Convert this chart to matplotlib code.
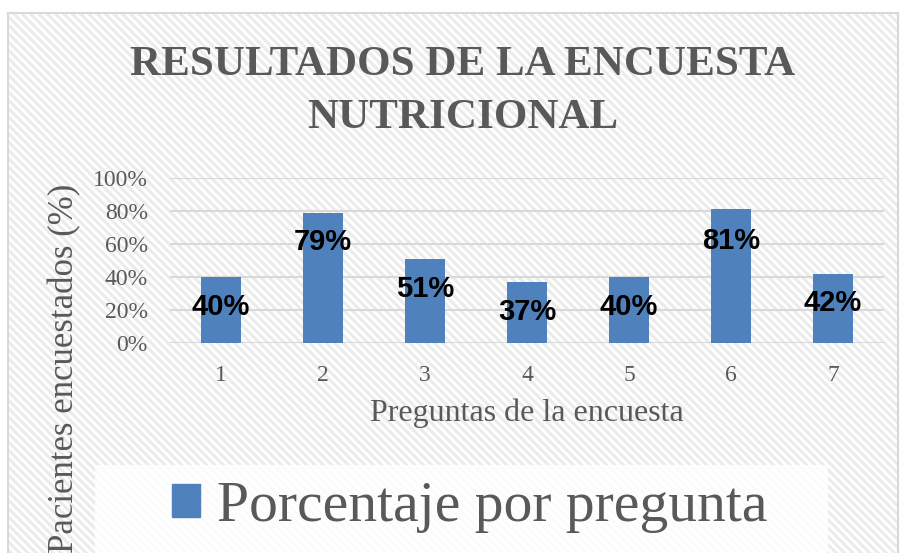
import matplotlib.pyplot as plt
from matplotlib.patches import Rectangle

# Survey data
preguntas = ["1", "2", "3", "4", "5", "6", "7"]
porcentaje = [0.40, 0.79, 0.51, 0.37, 0.40, 0.81, 0.42]
etiquetas = ["40%", "79%", "51%", "37%", "40%", "81%", "42%"]
y_ticks = [0.0, 0.2, 0.4, 0.6, 0.8, 1.0]
y_tick_labels = ["0%", "20%", "40%", "60%", "80%", "100%"]

# label heights (where the value labels sit, in data units)
label_pos = [0.22, 0.61, 0.33, 0.19, 0.22, 0.62, 0.24]

GRAY = "#595959"
BLUE = "#4f81bd"
SERIF = "Liberation Serif"

plt.rcParams["hatch.linewidth"] = 2.2

fig = plt.figure(figsize=(9.04, 5.53), dpi=100)
W, H = 904, 553

# striped chart background + border
bg = Rectangle((8 / W, 0), 890 / W, 1 - 13 / H, transform=fig.transFigure,
               facecolor="white", edgecolor="#ebebeb", hatch="\\\\\\\\",
               linewidth=0, zorder=-3)
fig.patches.append(bg)
border = Rectangle((8 / W, -0.01), 890 / W, 1 - 13 / H + 0.01,
                   transform=fig.transFigure, fill=False,
                   edgecolor="#d9d9d9", linewidth=1.5, zorder=-2)
fig.patches.append(border)

# legend background box
legbox = Rectangle((95 / W, 0), 733 / W, 1 - 465 / H,
                   transform=fig.transFigure, facecolor="white",
                   alpha=0.85, linewidth=0, zorder=-1)
fig.patches.append(legbox)

ax = fig.add_axes([170 / W, 1 - 343 / H, 714 / W, 165 / H])
ax.set_facecolor("none")

x = range(len(preguntas))
ax.bar(x, porcentaje, width=0.4, color=BLUE, zorder=3)

for i, (lbl, yp) in enumerate(zip(etiquetas, label_pos)):
    ax.text(i, yp, lbl, ha="center", va="center", fontsize=21,
            fontweight="bold", family="Liberation Sans", color="black",
            zorder=4)

ax.set_xlim(-0.5, len(preguntas) - 0.5)
ax.set_ylim(0, 1.0)
ax.set_yticks(y_ticks)
ax.set_yticklabels(y_tick_labels, family=SERIF, fontsize=17, color=GRAY)
ax.set_xticks(list(x))
ax.set_xticklabels(preguntas, family=SERIF, fontsize=17, color=GRAY)
ax.tick_params(axis="x", length=0, pad=16)
ax.tick_params(axis="y", length=0, pad=16)
ax.grid(axis="y", color="#d9d9d9", linewidth=1.5, zorder=1)
for s in ax.spines.values():
    s.set_visible(False)

ax.set_xlabel("Preguntas de la encuesta", family=SERIF, fontsize=23,
              color=GRAY, labelpad=9)

fig.text(65 / W, 1 - 368 / H, "Pacientes encuestados (%)", rotation=90,
         ha="center", va="center", family=SERIF, fontsize=25, color=GRAY)

fig.text(463 / W, 1 - 65 / H, "RESULTADOS DE LA ENCUESTA", ha="center",
         va="center", family=SERIF, fontweight="bold", fontsize=31,
         color=GRAY)
fig.text(463 / W, 1 - 118 / H, "NUTRICIONAL", ha="center", va="center",
         family=SERIF, fontweight="bold", fontsize=31, color=GRAY)

# legend
leg = fig.legend(["Porcentaje por pregunta"], loc="center left",
                 bbox_to_anchor=(172 / W, 1 - 507 / H), frameon=False,
                 prop={"family": SERIF, "size": 41.5}, handlelength=0.48,
                 handleheight=0.48, handletextpad=0.3, borderpad=0,
                 borderaxespad=0)
leg.legend_handles[0].set_color(BLUE)
for t in leg.get_texts():
    t.set_color(GRAY)

fig.savefig("out.png", dpi=100)
